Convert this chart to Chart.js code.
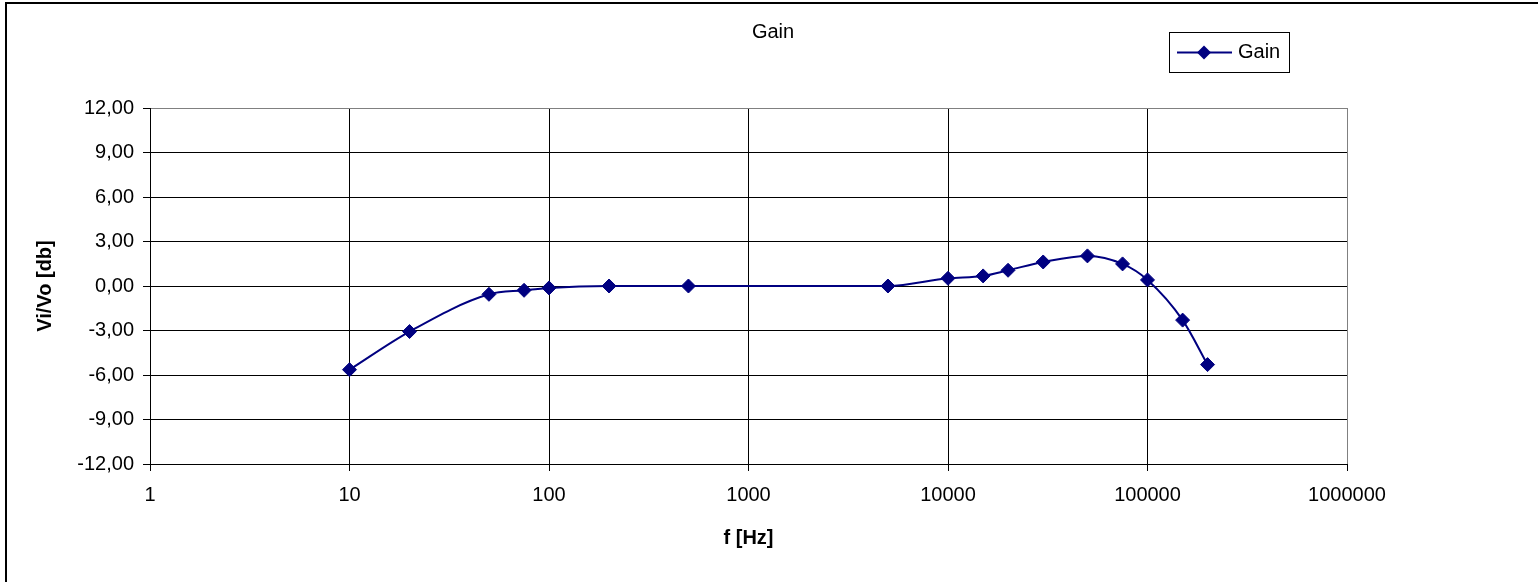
<!DOCTYPE html>
<html>
<head>
<meta charset="utf-8">
<script src="https://cdn.jsdelivr.net/npm/chart.js@4.4.1/dist/chart.umd.min.js"></script>
<style>
  html, body { margin: 0; padding: 0; background: #fff; }
  #wrap { width: 1538px; height: 582px; }
</style>
</head>
<body>
<div id="wrap"><canvas id="c" width="1538" height="582"></canvas></div>
<script>
// ---- data ----
const seriesName = 'Gain';
const chartTitle = 'Gain';
const xAxisTitle = 'f [Hz]';
const yAxisTitle = 'Vi/Vo [db]';
const frequencies = [10, 20, 50, 75, 100, 200, 500, 5000, 10000, 15000, 20000, 30000, 50000, 75000, 100000, 150000, 200000];
const gainDb = [-5.64, -3.07, -0.56, -0.29, -0.13, 0, 0, 0, 0.52, 0.68, 1.06, 1.62, 2.03, 1.49, 0.41, -2.30, -5.30];
const xTicks = [1, 10, 100, 1000, 10000, 100000, 1000000];
const xTickLabels = ['1', '10', '100', '1000', '10000', '100000', '1000000'];
const yTicks = [-12, -9, -6, -3, 0, 3, 6, 9, 12];

const NAVY = '#000080';
const FONT = "'Liberation Sans', Arial, sans-serif";
Chart.defaults.font.family = FONT;
Chart.defaults.color = '#000';

const points = frequencies.map((f, i) => ({ x: f, y: gainDb[i] }));

const decorPlugin = {
  id: 'decor',
  afterDraw(chart) {
    const ctx = chart.ctx;
    ctx.save();
    // outer frame (top + left visible)
    ctx.fillStyle = '#000';
    ctx.fillRect(5, 2, 1533, 2);
    ctx.fillRect(5, 2, 2, 580);
    // title
    ctx.font = '20px ' + FONT;
    ctx.textAlign = 'center';
    ctx.textBaseline = 'middle';
    ctx.fillText(chartTitle, 773, 32);
    // legend box
    const bx = 1169.5, by = 32.5, bw = 120, bh = 40;
    ctx.fillStyle = '#fff';
    ctx.fillRect(bx, by, bw, bh);
    ctx.strokeStyle = '#000';
    ctx.lineWidth = 1;
    ctx.strokeRect(bx, by, bw, bh);
    const ly = 52.5;
    ctx.strokeStyle = NAVY;
    ctx.lineWidth = 2;
    ctx.beginPath();
    ctx.moveTo(1177, ly);
    ctx.lineTo(1232, ly);
    ctx.stroke();
    ctx.fillStyle = NAVY;
    ctx.beginPath();
    ctx.moveTo(1204, ly - 7);
    ctx.lineTo(1211, ly);
    ctx.lineTo(1204, ly + 7);
    ctx.lineTo(1197, ly);
    ctx.closePath();
    ctx.fill();
    ctx.fillStyle = '#000';
    ctx.font = '20px ' + FONT;
    ctx.textAlign = 'left';
    ctx.fillText(chart.data.datasets[0].label, 1238, ly);
    ctx.restore();
  }
};

new Chart(document.getElementById('c'), {
  type: 'line',
  data: {
    datasets: [{
      label: seriesName,
      data: points,
      borderColor: NAVY,
      backgroundColor: NAVY,
      borderWidth: 2,
      cubicInterpolationMode: 'monotone',
      pointStyle: 'rectRot',
      pointRadius: 7,
      pointHoverRadius: 7,
      pointBackgroundColor: NAVY,
      pointBorderColor: NAVY,
      pointBorderWidth: 1,
      fill: false
    }]
  },
  options: {
    responsive: false,
    animation: false,
    devicePixelRatio: 1,
    layout: { padding: { top: 108, right: 191, bottom: 0, left: 0 } },
    plugins: {
      legend: { display: false },
      title: { display: false },
      tooltip: { enabled: false }
    },
    scales: {
      x: {
        type: 'logarithmic',
        min: 1,
        max: 1000000,
        afterBuildTicks(scale) { scale.ticks = xTicks.map(v => ({ value: v })); },
        afterFit(scale) { scale.height = 118; },
        ticks: {
          autoSkip: false,
          maxRotation: 0,
          padding: 12,
          font: { size: 20 },
          color: '#000',
          callback: (v, i) => xTickLabels[i]
        },
        grid: {
          color: (c) => (c.tick && c.tick.value === 1000000) ? '#808080' : '#000',
          tickColor: '#000',
          tickLength: 7,
          lineWidth: 1
        },
        border: { color: '#000', width: 1 },
        title: {
          display: true,
          text: xAxisTitle,
          font: { size: 20, weight: 'bold' },
          color: '#000',
          padding: 32
        }
      },
      y: {
        min: -12,
        max: 12,
        afterBuildTicks(scale) { scale.ticks = yTicks.map(v => ({ value: v })); },
        afterFit(scale) { scale.width = 150; },
        ticks: {
          padding: 9,
          font: { size: 20 },
          color: '#000',
          callback: (v) => Number(v).toFixed(2).replace('.', ',')
        },
        grid: {
          color: (c) => (c.tick && c.tick.value === 12) ? '#808080' : '#000',
          tickColor: '#000',
          tickLength: 7,
          lineWidth: 1
        },
        border: { color: '#000', width: 1 },
        title: {
          display: true,
          text: yAxisTitle,
          font: { size: 20, weight: 'bold' },
          color: '#000',
          padding: 33
        }
      }
    }
  },
  plugins: [decorPlugin]
});
</script>
</body>
</html>
